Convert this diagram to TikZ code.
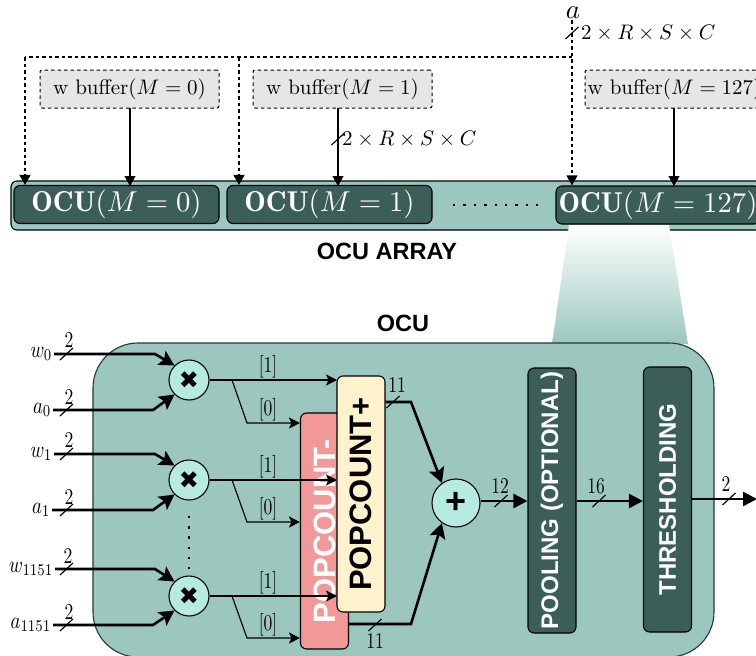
\documentclass[tikz,border=0pt]{standalone}
\usepackage{fontspec}
\setsansfont{Liberation Sans}
\newfontfamily\dejavu{DejaVu Sans}
\usetikzlibrary{arrows.meta,calc}
\definecolor{tealbg}{HTML}{9BC7BF}
\definecolor{tealdk}{HTML}{3B5F58}
\definecolor{mint}{HTML}{B5EBE0}
\definecolor{pinkbox}{HTML}{F29898}
\definecolor{creambox}{HTML}{FFF2CC}
\definecolor{greybox}{HTML}{E6E6E6}
\newcommand{\fs}[1]{\fontsize{#1}{#1}\selectfont}
\newcommand{\sz}[2]{\scalebox{#1}{#2}}
\newcommand{\numl}[1]{\scalebox{1.75}[2.25]{#1}}
\newcommand{\inl}[1]{\scalebox{1.87}[2.35]{#1}}
\newcommand{\busmark}[2]{\draw[wire] ({#1-6.5},{#2+6}) -- ({#1+6.5},{#2-6});}
\tikzset{
  x=1pt,y=-1pt,
  wire/.style={line width=1.15pt,draw=black},
  tip/.style={wire,-{Stealth[length=11pt,width=11pt,inset=2.5pt]}},
  toptip/.style={wire,-{Triangle[length=10pt,width=11pt]}},
  dashtip/.style={toptip,dash pattern=on 3.5pt off 3pt},
  dashline/.style={wire,dash pattern=on 3.5pt off 3pt},
  heavy/.style={line width=2.6pt,draw=black,-{Stealth[length=15pt,width=16pt,inset=3pt]}},
  heavytri/.style={line width=2.6pt,draw=black,-{Triangle[length=14pt,width=14pt]}},
  dotline/.style={line width=2.4pt,draw=black,dash pattern=on 2.4pt off 8pt},
  box/.style={draw=black,line width=1.1pt,rounded corners=6pt,inner sep=0pt},
  bufbox/.style={box,line width=1pt,rounded corners=2pt,fill=greybox,dash pattern=on 3.5pt off 3pt,minimum width=179pt,minimum height=38pt},
  ocubox/.style={box,fill=tealdk,text=white,minimum height=38pt},
  opcircle/.style={circle,draw=black,line width=1.1pt,fill=mint,inner sep=0pt},
  vbox/.style={box,minimum width=48pt},
  lab/.style={inner sep=0pt},
  inlab/.style={inner sep=1.5pt,anchor=east},
  dims/.style={inner sep=0pt,anchor=west},
  title/.style={inner sep=0pt,font=\sffamily\bfseries\fs{23.5}},
}
\begin{document}
\begin{tikzpicture}
\useasboundingbox (0,0) rectangle (756,656);
\clip (0,0) rectangle (756,656);
% OCU array
\node[box,fill=tealbg,minimum width=800pt,minimum height=49pt] (array) at (411,205.5) {};
\shade[top color=white,bottom color=tealbg] (569,225) -- (669,225) -- (688,344) -- (552,344) -- cycle;
\node[ocubox,minimum width=205pt] (ocuA) at (116.5,204.5) {\sz{2.87}{$\mathbf{OCU}(M=0)$}};
\node[ocubox,minimum width=205pt] (ocuB) at (329.5,204.5) {\sz{2.87}{$\mathbf{OCU}(M=1)$}};
\node[ocubox,minimum width=204pt] (ocuC) at (658,205) {\sz{2.87}{$\mathbf{OCU}(M=127)$}};
\node[bufbox] (bufA) at (129.5,89) {\sz{2.1}{w buffer$(M=0)$}};
\node[bufbox] (bufB) at (342.5,89) {\sz{2.1}{w buffer$(M=1)$}};
\node[bufbox] (bufC) at (674.5,89) {\sz{2.1}{w buffer$(M=127)$}};
\node[inner sep=0pt] (ain) at (573,13) {\sz{2.7}{$a$}};
\coordinate (aTop) at (572,20);
\coordinate (aCorner) at (572,57);
\coordinate (cornerA) at (25,57);
\coordinate (cornerB) at (239,57);
\draw[dashtip] (aTop) -- (ocuC.north -| aTop);
\draw[dashline] (aCorner) -- (cornerA);
\draw[dashtip] (cornerA) -- (cornerA |- ocuA.north);
\draw[dashtip] (cornerB) -- (cornerB |- ocuB.north);
\draw[toptip] (130,108) -- (130,186);
\draw[toptip] (338,108) -- (338,186);
\draw[toptip] (674,108) -- (674,186);
\busmark{572}{33}
\busmark{338}{139}
\node[dims] (dimA) at (581,33) {\sz{2.1}{$2\times R\times S\times C$}};
\node[dims] (dimB) at (342,139) {\sz{2.1}{$2\times R\times S\times C$}};
\coordinate (hdotA) at (453,205);
\coordinate (hdotB) at (538,205);
\draw[dotline] (hdotA) -- (hdotB);
\node[title] (arrT) at (387,251) {OCU ARRAY};
\node[title] (ocuT) at (403,323) {OCU};
% OCU detail
\node[draw=tealdk!60!black,line width=1.1pt,fill=tealbg,rounded corners=45pt,minimum width=621pt,minimum height=314pt,inner sep=0pt] (main) at (403.5,500) {};
% popcount boxes
\node[vbox,fill=pinkbox,minimum height=236pt,text=white,font=\sffamily\bfseries\fs{31}] (popm) at (324.5,531) {\rotatebox{90}{POPCOUNT-}};
\node[vbox,fill=creambox,minimum height=236pt,font=\sffamily\bfseries\fs{31}] (popp) at (361,494) {\rotatebox{90}{POPCOUNT+}};
\node[vbox,fill=tealdk,text=white,minimum height=265pt,font=\sffamily\bfseries\fs{24}] (pool) at (552,500.5) {\rotatebox{90}{POOLING (OPTIONAL)}};
\node[vbox,fill=tealdk,text=white,minimum height=265pt,font=\sffamily\bfseries\fs{24}] (thr) at (667.5,499.5) {\rotatebox{90}{THRESHOLDING}};
% multipliers
\foreach \nm/\yy in {mA/380,mB/480,mC/596}
  \node[opcircle,minimum size=40pt,font=\dejavu\fs{24}] (\nm) at (189,\yy) {✖};
\node[opcircle,minimum size=48pt,font=\sffamily\bfseries\fs{36}] (plus) at (456,503) {\raisebox{-2pt}{+}};
\coordinate (vdotA) at (189,516);
\coordinate (vdotB) at (189,571);
\draw[dotline,dash pattern=on 2.4pt off 7.8pt] (vdotA) -- (vdotB);
% inputs
\node[inlab] (w0) at (54,354) {\inl{$w_0$}};
\node[inlab] (a0) at (53,410) {\inl{$a_0$}};
\node[inlab] (w1) at (54,454) {\inl{$w_1$}};
\node[inlab] (a1) at (52,510) {\inl{$a_1$}};
\node[inlab] (w2) at (55,569) {\inl{$w_{1151}$}};
\node[inlab] (a2) at (53,625) {\inl{$a_{1151}$}};
\foreach \wn/\an/\mn/\wy/\ay in {w0/a0/mA/354/410,w1/a1/mB/454/510,w2/a2/mC/569/625}{
  \draw[heavy] (\wn.east) -- (155,\wy) -- (\mn.north west);
  \draw[heavy] (\an.east) -- (153,\ay) -- (\mn.south west);
  \busmark{66.5}{\wy}
  \busmark{66.5}{\ay}
}
\node[lab] (t1) at (69,340) {\numl{2}};
\node[lab] (t2) at (69,397) {\numl{2}};
\node[lab] (t3) at (69,440) {\numl{2}};
\node[lab] (t4) at (69,497) {\numl{2}};
\node[lab] (t5) at (68,556) {\numl{2}};
\node[lab] (t6) at (69,612) {\numl{2}};
% outputs
\foreach \mn/\yy/\yb in {mA/380/423,mB/480/522,mC/596/638}{
  \coordinate (split) at (232,\yy);
  \draw[line width=2.6pt] (\mn.east) -- (split);
  \draw[tip] (split) -- (337,\yy);
  \draw[tip] (split) -- (247,\yb) -- (popm.west |- 0,\yb);
  \node[lab] at (268,{\yy-13}) {\numl{[1]}};
  \node[lab] at (268,{\yb-13}) {\numl{[0]}};
}
% sums
\coordinate (ppBend) at (411,402);
\coordinate (pmBend) at (411,624);
\draw[heavy] (popp.east |- ppBend) -- (ppBend) -- (plus.125);
\draw[heavy] (popm.east |- pmBend) -- (pmBend) -- (plus.235);
\busmark{393}{402}
\busmark{375}{625}
\node[lab] at (397,385) {\numl{11}};
\node[lab] at (375,641) {\numl{11}};
\draw[heavytri] (plus.east |- 0,501) -- (pool.west |- 0,501);
\busmark{501}{501}
\node[lab] at (500,486) {\numl{12}};
\draw[heavytri] (pool.east |- 0,501) -- (thr.west |- 0,501);
\busmark{599}{501}
\node[lab] at (596,486) {\numl{16}};
\coordinate (outEnd) at (757,499);
\draw[heavytri] (thr.east |- outEnd) -- (outEnd);
\busmark{729}{499}
\node[lab] at (726,484) {\numl{2}};
\end{tikzpicture}
\end{document}
